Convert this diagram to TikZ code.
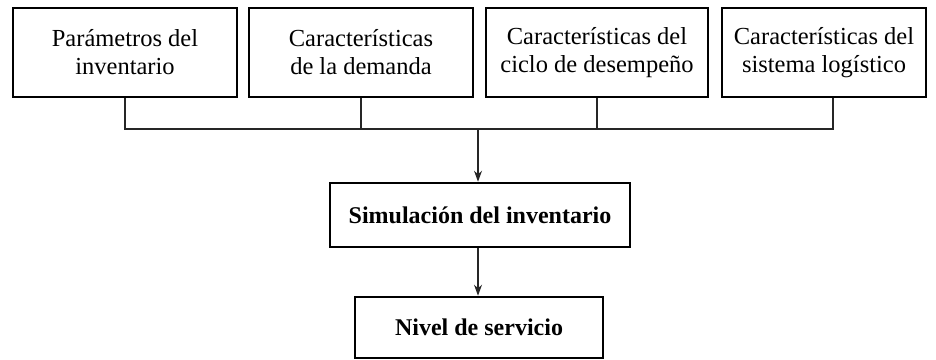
\documentclass[tikz,border=0pt]{standalone}
\usepackage{fontspec}
\setmainfont{Liberation Serif}
\usetikzlibrary{arrows.meta, positioning}
\tikzset{
  % boxes drawn heavier than the connectors, as in the printed figure
  every picture/.append style = {line width=1pt, >={Stealth[length=11pt, width=8pt]}},
  inbox/.style   = {draw, line width=2.6pt, align=center, minimum height=89pt,
                    font=\fontsize{24.5}{28}\selectfont, inner sep=0pt},
  outbox/.style  = {draw, line width=2.6pt, align=center,
                    font=\fontsize{24}{28}\selectfont\bfseries, inner sep=0pt},
  link/.style    = {line width=1.1pt, black!85},
  flow/.style    = {->, line width=1.1pt, black!85},
}

\begin{document}
\begin{tikzpicture}[x=1pt,y=-1pt]
  \useasboundingbox (0,0) rectangle (936,359);
  % inputs along the top row
  \node[inbox, minimum width=224pt] (param)  at (125,52.5) {Parámetros del\\inventario};
  \node[inbox, minimum width=224pt] (demand) at (361,52.5) {Características\\de la demanda};
  \node[inbox, minimum width=222pt] (cycle)  at (597,52.5) {Características del\\ciclo de desempeño};
  \node[inbox, minimum width=204pt] (logist) at (824,52.5) {Características del\\sistema logístico};
  % simulation and its result
  \node[outbox, minimum width=300pt, minimum height=64pt] (sim) at (480,215)   {Simulación del inventario};
  \node[outbox, minimum width=248pt, minimum height=61pt] (serv) at (479,327.5) {Nivel de servicio};
  % collecting line
  \coordinate (bus) at (478,129);
  \draw[link] (param.south) |- (bus) -| ([xshift=9pt]logist.south);
  \draw[link] (demand.south) -- (demand.south |- bus);
  \draw[link] (cycle.south) -- (cycle.south |- bus);
  \draw[flow] (bus) -- (bus |- sim.north);
  \draw[flow] (sim.south -| bus) -- (bus |- serv.north);
\end{tikzpicture}
\end{document}
